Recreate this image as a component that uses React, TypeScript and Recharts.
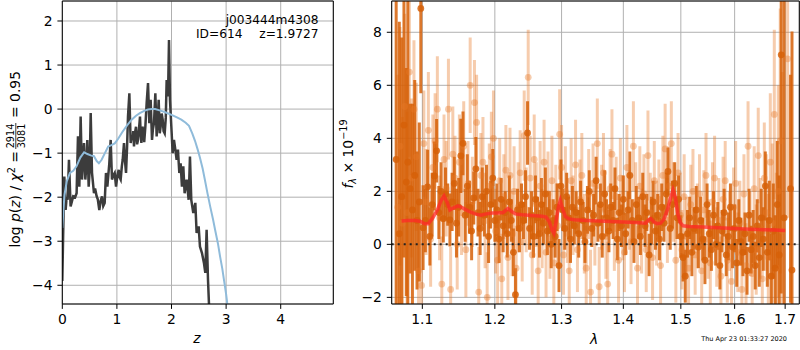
import {
  ComposedChart,
  Line,
  Scatter,
  ErrorBar,
  XAxis,
  YAxis,
  CartesianGrid,
  ReferenceLine,
} from "recharts";

const FONT = '"DejaVu Sans", sans-serif';

// ---- left panel: log p(z) ----
const Z_TICKS = [0, 1, 2, 3, 4];
const PZ_TICKS = [-4, -3, -2, -1, 0, 1, 2];
const Z_DOMAIN = [0, 4.963];
const PZ_DOMAIN = [-4.425, 2.454];

// chi2 curve (dark, jagged)
const PZ_CHI2: [number, number][] = [
  [0.0, -3.9], [0.015, -2.9], [0.037, -1.53], [0.061, -2.29], [0.08, -2.0],
  [0.098, -2.06], [0.122, -1.15], [0.152, -2.21], [0.175, -2.1], [0.2, -1.98],
  [0.235, -2.0], [0.262, -1.91], [0.287, -0.62], [0.312, -1.76], [0.336, -0.17],
  [0.361, -1.6], [0.38, -1.2], [0.397, -0.77], [0.422, -1.6], [0.44, -1.3],
  [0.458, -0.7], [0.483, -1.76], [0.5, -1.4], [0.52, -0.09], [0.544, -1.45],
  [0.58, -1.91], [0.6, -1.8], [0.629, -1.98], [0.65, -2.05], [0.678, -2.29],
  [0.7, -2.1], [0.727, -1.98], [0.75, -2.2], [0.776, -2.13], [0.8, -1.45],
  [0.825, -1.76], [0.861, -1.23], [0.886, -0.7], [0.91, -1.6], [0.935, -1.5],
  [0.959, -1.45], [0.984, -1.76], [1.01, -1.5], [1.033, -1.38], [1.05, -1.55],
  [1.069, -1.6], [1.09, -1.3], [1.106, -1.15], [1.13, -0.77], [1.15, -1.2],
  [1.167, -1.45], [1.185, -0.9], [1.203, -0.17], [1.228, 0.36], [1.252, -0.77],
  [1.27, -0.6], [1.289, -0.7], [1.3, -0.5], [1.313, -0.85], [1.33, -0.55],
  [1.35, -0.4], [1.37, -0.8], [1.386, -0.7], [1.405, -0.45], [1.423, -0.17],
  [1.435, -0.55], [1.448, -0.77], [1.465, -0.4], [1.484, -0.47], [1.5, -0.75],
  [1.521, -0.4], [1.545, 0.14], [1.57, 0.59], [1.594, -0.32], [1.618, 0.21],
  [1.643, -0.7], [1.66, -0.45], [1.679, -0.32], [1.704, 0.36], [1.728, -0.62],
  [1.745, -0.3], [1.765, 0.21], [1.785, -0.55], [1.801, -0.4], [1.82, -0.1],
  [1.838, -0.24], [1.855, -0.5], [1.875, -0.55], [1.895, -0.2], [1.911, 0.66],
  [1.936, 0.29], [1.954, 1.57], [1.972, 0.21], [1.997, -0.4], [2.021, -1.0],
  [2.045, -0.7], [2.07, -0.92], [2.094, -1.15], [2.118, -0.92], [2.143, -1.45],
  [2.167, -1.23], [2.191, -1.76], [2.216, -1.3], [2.24, -1.91], [2.277, -1.6],
  [2.314, -2.06], [2.338, -1.08], [2.362, -2.06], [2.399, -2.36], [2.436, -2.13],
  [2.46, -2.81], [2.497, -2.66], [2.521, -3.12], [2.558, -3.27], [2.595, -3.5],
  [2.619, -3.72], [2.643, -2.74], [2.668, -3.87], [2.692, -4.6], [2.717, -5.5],
];

// p(z) curve (light blue, smooth)
const PZ_SMOOTH: [number, number][] = [
  [0, -2.7], [0.02, -2.3], [0.04, -1.95], [0.08, -1.65], [0.14, -1.45],
  [0.2, -1.4], [0.26, -1.3], [0.33, -1.1], [0.4, -0.98], [0.46, -1.02],
  [0.52, -1.05], [0.58, -1.07], [0.63, -1.18], [0.67, -1.23], [0.72, -1.15],
  [0.78, -1.0], [0.84, -0.85], [0.9, -0.82], [0.96, -0.78], [1.02, -0.68],
  [1.1, -0.52], [1.18, -0.38], [1.27, -0.24], [1.35, -0.15], [1.42, -0.09],
  [1.5, -0.04], [1.57, -0.01], [1.64, 0.0], [1.7, 0.0], [1.78, -0.03],
  [1.86, -0.06], [1.94, -0.1], [2.0, -0.13], [2.1, -0.19], [2.18, -0.24],
  [2.26, -0.31], [2.32, -0.38], [2.38, -0.55], [2.43, -0.72], [2.48, -0.92],
  [2.52, -1.1], [2.57, -1.35], [2.61, -1.6], [2.66, -1.92], [2.71, -2.22],
  [2.76, -2.5], [2.8, -2.75], [2.85, -3.05], [2.89, -3.35], [2.93, -3.62],
  [2.96, -3.87], [3.0, -4.2], [3.02, -4.4], [3.05, -4.65],
];

// ---- right panel: spectrum ----
const WAVE_TICKS = [1.1, 1.2, 1.3, 1.4, 1.5, 1.6, 1.7];
const FLUX_TICKS = [-2, 0, 2, 4, 6, 8];
const WAVE_DOMAIN = [1.0603, 1.7291];
const FLUX_DOMAIN = [-2.25, 9.18];

// [wavelength, flux, error] — pale spectrum
const SPEC_LIGHT: [number, number, number][] = [
  [1.068, 1.4, 5.0], [1.071, 3.7, 4.5], [1.074, 0.8, 4.0], [1.077, 5.2, 3.5],
  [1.08, 1.2, 3.8], [1.083, 6.5, 3.2], [1.086, 2.5, 3.0], [1.089, 5.1, 2.6],
  [1.092, 3.3, 2.8], [1.095, -1.0, 2.5], [1.099, -1.55, 2.2], [1.102, 3.8, 2.0],
  [1.105, 1.6, 2.0], [1.108, 4.3, 2.2], [1.111, 0.2, 1.8], [1.114, 2.9, 2.0],
  [1.117, 3.9, 1.8], [1.12, 5.1, 2.0], [1.123, 1.0, 1.6], [1.126, -1.5, 1.8],
  [1.129, 3.2, 1.7], [1.132, 2.1, 1.8], [1.135, 5.1, 1.9], [1.138, -1.7, 1.6],
  [1.141, 3.4, 1.8], [1.144, 2.5, 1.6], [1.147, 0.0, 1.7], [1.15, 3.1, 1.8],
  [1.153, 1.2, 1.6], [1.156, 3.7, 1.7], [1.159, -0.2, 1.8], [1.162, 2.3, 1.6],
  [1.165, 6.0, 1.8], [1.168, 1.6, 1.7], [1.171, 5.35, 1.6], [1.174, 4.6, 1.8],
  [1.177, -1.8, 1.7], [1.18, 2.6, 1.6], [1.183, 3.1, 1.7], [1.186, 0.9, 1.8],
  [1.189, -2.0, 1.7], [1.192, 2.2, 1.6], [1.195, 3.3, 1.7], [1.198, 4.0, 1.8],
  [1.201, 0.5, 1.6], [1.204, -0.6, 1.7], [1.207, 2.4, 1.6], [1.21, -1.3, 1.7],
  [1.213, 1.8, 1.6], [1.216, 2.8, 1.7], [1.219, -0.5, 1.6], [1.222, 2.6, 1.8],
  [1.225, 0.4, 1.6], [1.228, 2.0, 1.7], [1.231, -0.9, 1.6], [1.234, 1.4, 1.7],
  [1.237, 2.7, 1.6], [1.24, 0.1, 1.5], [1.243, 4.1, 1.7], [1.246, 1.3, 1.6],
  [1.249, 6.3, 1.8], [1.252, 2.5, 1.6], [1.255, -0.4, 1.5], [1.258, 3.2, 1.7],
  [1.261, 1.5, 1.6], [1.264, -1.0, 1.6], [1.267, 2.2, 1.7], [1.27, 0.6, 1.5],
  [1.273, 3.1, 1.6], [1.276, -0.3, 1.7], [1.279, 1.9, 1.6], [1.282, 0.2, 1.5],
  [1.285, 2.4, 1.7], [1.288, -0.7, 1.6], [1.291, 1.5, 1.5], [1.294, 0.7, 1.6],
  [1.297, 4.15, 1.7], [1.3, 2.9, 1.6], [1.303, -0.4, 1.5], [1.306, 2.0, 1.7],
  [1.309, 0.9, 1.6], [1.312, -1.0, 1.5], [1.315, 2.4, 1.6], [1.318, 1.1, 1.5],
  [1.322, 3.0, 1.7], [1.325, -0.2, 1.6], [1.329, 1.7, 1.5], [1.332, 2.6, 1.6],
  [1.336, 0.4, 1.5], [1.339, -0.9, 1.6], [1.343, 1.9, 1.7], [1.346, -1.8, 1.6],
  [1.35, 2.3, 1.5], [1.353, 0.8, 1.6], [1.357, 3.8, 1.7], [1.36, -1.6, 1.5],
  [1.364, 1.4, 1.6], [1.367, 2.7, 1.5], [1.371, 0.3, 1.6], [1.374, -1.5, 1.6],
  [1.378, 2.1, 1.5], [1.381, 3.4, 1.7], [1.385, 0.6, 1.6], [1.388, 1.8, 1.5],
  [1.392, -0.6, 1.6], [1.395, 2.5, 1.5], [1.399, 1.0, 1.6], [1.402, -0.3, 1.5],
  [1.406, 2.9, 1.6], [1.41, 1.3, 1.5], [1.413, 0.1, 1.6], [1.417, 3.7, 1.7],
  [1.421, 1.6, 1.5], [1.424, -0.9, 1.6], [1.428, 2.2, 1.5], [1.431, 0.5, 1.6],
  [1.435, 1.9, 1.5], [1.439, -0.2, 1.6], [1.442, 3.35, 1.7], [1.446, 1.2, 1.5],
  [1.45, -0.5, 1.6], [1.453, 2.4, 1.5], [1.457, 0.8, 1.6], [1.461, 1.7, 1.5],
  [1.464, -0.8, 1.6], [1.468, 2.6, 1.5], [1.472, 3.6, 1.7], [1.476, 0.9, 1.6],
  [1.479, 2.2, 1.5], [1.483, 3.8, 1.6], [1.487, 1.6, 1.5], [1.491, -0.6, 1.6],
  [1.495, 2.7, 1.5], [1.499, 1.1, 1.6], [1.502, -0.2, 1.5], [1.506, 1.8, 1.6],
  [1.51, 0.3, 1.5], [1.514, -0.9, 1.6], [1.518, 1.5, 1.5], [1.522, 2.0, 1.6],
  [1.526, -0.4, 1.5], [1.53, 0.7, 1.6], [1.534, 1.9, 1.5], [1.538, -1.0, 1.6],
  [1.542, 1.3, 1.5], [1.546, 2.6, 1.6], [1.55, 0.2, 1.5], [1.554, -0.7, 1.6],
  [1.558, 1.6, 1.5], [1.562, 2.5, 1.6], [1.566, -0.1, 1.5], [1.57, 0.9, 1.6],
  [1.574, -1.2, 1.5], [1.578, 1.7, 1.6], [1.582, 2.4, 1.5], [1.586, -0.6, 1.6],
  [1.59, 0.5, 1.5], [1.594, -1.4, 1.6], [1.598, 1.4, 1.5], [1.602, 2.3, 1.6],
  [1.606, -0.3, 1.5], [1.61, 0.8, 1.6], [1.614, -1.7, 1.6], [1.618, 1.9, 1.5],
  [1.622, -0.8, 1.6], [1.626, 3.7, 1.7], [1.63, 0.4, 1.6], [1.634, -1.1, 1.7],
  [1.638, 2.1, 1.6], [1.642, -0.2, 1.7], [1.646, 3.35, 1.8], [1.65, 0.6, 1.9],
  [1.654, -1.3, 2.0], [1.658, 2.5, 2.1], [1.662, 1.2, 2.2], [1.666, -0.5, 2.4],
  [1.67, 3.1, 2.6], [1.674, 0.8, 3.0], [1.678, 4.9, 3.2], [1.682, -0.9, 3.6],
  [1.686, 2.0, 4.0], [1.69, 3.9, 5.0], [1.694, 0.5, 6.0], [1.705, 7.0, 6.0],
];

// [wavelength, flux, error] — dark spectrum
const SPEC_DARK: [number, number, number][] = [
  [1.066, 3.2, 7.0], [1.07, 0.4, 8.0], [1.073, 1.8, 6.0], [1.076, 4.5, 5.0],
  [1.079, 2.35, 4.3], [1.081, 3.1, 6.5], [1.084, 2.1, 3.2], [1.087, 1.3, 4.0],
  [1.09, 2.6, 3.6], [1.093, 0.9, 2.6], [1.096, 1.6, 3.0], [1.098, 8.9, 3.2],
  [1.101, 0.63, 1.6], [1.104, 0.9, 1.2], [1.107, 2.17, 1.4], [1.11, 0.3, 1.1],
  [1.113, 1.5, 1.2], [1.116, 2.58, 1.3], [1.119, 3.53, 1.2], [1.122, 1.2, 1.0],
  [1.125, 2.0, 1.1], [1.128, 0.97, 0.9], [1.131, 1.9, 1.0], [1.134, 1.5, 0.8],
  [1.137, 0.92, 1.0], [1.14, 1.6, 1.1], [1.143, 2.3, 1.0], [1.146, 0.8, 1.3],
  [1.149, 1.4, 1.1], [1.152, 3.34, 1.4], [1.155, 3.81, 1.2], [1.158, 1.1, 1.0],
  [1.161, 2.2, 1.2], [1.164, 1.4, 1.0], [1.167, 0.5, 1.1], [1.17, 1.75, 1.0],
  [1.173, 2.85, 1.2], [1.176, 1.2, 0.9], [1.179, 0.6, 1.0], [1.182, 1.8, 1.1],
  [1.185, 1.1, 0.8], [1.188, 2.0, 1.0], [1.191, 0.3, 1.0], [1.194, 1.5, 0.9],
  [1.197, 2.5, 1.1], [1.2, 0.9, 0.8], [1.203, 1.3, 1.0], [1.206, 0.2, 0.9],
  [1.209, 1.7, 0.8], [1.212, 0.7, 1.0], [1.215, 1.2, 0.8], [1.218, 0.4, 0.9],
  [1.221, 1.6, 1.0], [1.224, 0.9, 0.8], [1.227, -0.3, 0.9], [1.23, -1.9, 1.0],
  [1.233, 1.3, 0.8], [1.236, 0.6, 0.9], [1.239, 1.5, 0.8], [1.242, 0.9, 0.7],
  [1.245, 1.8, 1.0], [1.248, 4.2, 1.2], [1.251, 0.6, 0.8], [1.254, 1.1, 0.9],
  [1.257, 0.3, 0.8], [1.26, 1.7, 0.9], [1.263, 1.0, 0.8], [1.266, 0.4, 0.9],
  [1.269, 1.5, 1.0], [1.272, 0.8, 0.8], [1.275, 1.9, 1.0], [1.278, 0.5, 0.9],
  [1.281, 1.2, 0.8], [1.284, 0.0, 0.9], [1.287, 0.9, 0.8], [1.29, 0.3, 0.8],
  [1.293, 1.4, 0.9], [1.296, -0.8, 1.0], [1.299, 2.2, 1.0], [1.302, 1.3, 0.8],
  [1.305, 0.6, 0.8], [1.308, 1.8, 0.9], [1.311, 1.0, 0.8], [1.314, 0.2, 0.9],
  [1.317, 1.4, 0.8], [1.32, 0.7, 0.7], [1.323, 1.2, 0.8], [1.327, 0.4, 0.9],
  [1.33, 1.6, 0.8], [1.334, 0.9, 0.7], [1.337, 0.1, 0.8], [1.341, 1.3, 0.9],
  [1.344, 2.0, 0.8], [1.348, 0.6, 0.7], [1.351, 1.1, 0.8], [1.355, 2.4, 0.9],
  [1.358, 0.8, 0.7], [1.362, 1.5, 0.8], [1.365, 0.3, 0.8], [1.369, 1.9, 0.9],
  [1.372, 1.0, 0.7], [1.376, 0.5, 0.8], [1.379, 1.4, 0.9], [1.383, 0.9, 0.7],
  [1.386, 2.1, 0.8], [1.39, 0.2, 0.8], [1.393, 1.2, 0.7], [1.397, 0.7, 0.8],
  [1.4, 1.7, 0.9], [1.404, 0.4, 0.8], [1.408, 1.3, 0.7], [1.411, 2.6, 0.9],
  [1.415, 0.9, 0.8], [1.418, 0.1, 0.8], [1.422, 1.5, 0.7], [1.426, 1.0, 0.8],
  [1.429, 0.3, 0.7], [1.433, 1.8, 0.9], [1.437, 0.7, 0.8], [1.44, 1.2, 0.7],
  [1.444, -0.4, 0.8], [1.448, 0.9, 0.9], [1.451, 1.6, 0.8], [1.455, 0.5, 0.7],
  [1.459, 1.1, 0.8], [1.462, 0.2, 0.8], [1.466, 1.4, 0.9], [1.47, 0.8, 0.7],
  [1.474, 1.9, 0.8], [1.477, 2.75, 0.9], [1.481, 0.6, 0.8], [1.485, 1.5, 0.9],
  [1.489, 2.3, 0.8], [1.493, 1.0, 0.8], [1.496, 1.7, 0.9], [1.5, 0.3, 0.8],
  [1.504, -0.5, 0.9], [1.508, -1.2, 1.0], [1.512, 0.4, 0.9], [1.516, 1.0, 0.8],
  [1.52, -0.3, 0.9], [1.524, 0.6, 0.8], [1.528, 1.3, 0.9], [1.532, -0.1, 0.8],
  [1.536, 0.9, 0.9], [1.54, 0.2, 0.8], [1.544, -0.6, 0.9], [1.548, 1.5, 0.8],
  [1.552, 0.4, 0.9], [1.556, -0.2, 0.8], [1.56, 1.1, 0.9], [1.564, 0.0, 0.8],
  [1.568, 0.7, 0.9], [1.572, -0.8, 0.9], [1.576, 0.5, 0.8], [1.58, 1.2, 0.9],
  [1.584, -0.4, 0.8], [1.588, 0.3, 0.9], [1.592, 1.4, 0.9], [1.596, -0.1, 0.8],
  [1.6, 0.6, 0.9], [1.604, -0.7, 0.9], [1.608, 0.9, 0.8], [1.612, 0.1, 0.9],
  [1.616, -0.3, 0.9], [1.62, 0.4, 0.8], [1.624, -1.0, 0.9], [1.628, 1.1, 1.0],
  [1.632, -0.2, 0.9], [1.636, 0.3, 1.0], [1.64, -0.8, 0.9], [1.644, 0.7, 1.0],
  [1.648, -0.5, 1.1], [1.652, 1.0, 1.1], [1.656, 0.2, 1.2], [1.66, 2.2, 1.3],
  [1.664, -0.3, 1.3], [1.668, 0.9, 1.5], [1.672, -1.2, 1.6], [1.676, 0.5, 1.8],
  [1.68, -0.9, 2.0], [1.684, 1.5, 2.4], [1.688, -0.4, 3.0], [1.692, 7.15, 9.0],
  [1.698, 1.0, 9.0], [1.711, 2.1, 4.3], [1.714, -0.97, 9.0],
];

// best-fit model (red)
const MODEL: [number, number][] = [
  [1.073, 0.88], [1.08, 0.9], [1.09, 0.9], [1.097, 0.87], [1.103, 0.78],
  [1.108, 0.78], [1.114, 1.0], [1.12, 1.3], [1.125, 1.65], [1.129, 1.82],
  [1.133, 1.6], [1.137, 1.3], [1.142, 1.38], [1.148, 1.45], [1.153, 1.4],
  [1.158, 1.32], [1.165, 1.22], [1.172, 1.15], [1.18, 1.1], [1.188, 1.15],
  [1.196, 1.18], [1.205, 1.18], [1.212, 1.2], [1.219, 1.35], [1.224, 1.25],
  [1.23, 1.15], [1.24, 1.12], [1.25, 1.1], [1.26, 1.08], [1.27, 1.06],
  [1.276, 1.03], [1.281, 0.85], [1.285, 0.55], [1.288, 0.42], [1.291, 0.8],
  [1.295, 1.4], [1.298, 1.65], [1.302, 1.3], [1.306, 1.05], [1.312, 0.96],
  [1.32, 0.93], [1.34, 0.9], [1.36, 0.88], [1.38, 0.86], [1.4, 0.84],
  [1.42, 0.82], [1.438, 0.8], [1.443, 0.92], [1.447, 0.97], [1.452, 0.85],
  [1.458, 0.78], [1.464, 0.8], [1.47, 0.95], [1.476, 1.3], [1.481, 1.7],
  [1.486, 2.05], [1.49, 1.8], [1.494, 1.2], [1.499, 0.82], [1.504, 0.7],
  [1.515, 0.67], [1.54, 0.65], [1.57, 0.63], [1.6, 0.6], [1.63, 0.57],
  [1.66, 0.55], [1.68, 0.54], [1.7, 0.52],
];

const chi2Data = PZ_CHI2.map(([z, v]) => ({ z, v }));
const smoothData = PZ_SMOOTH.map(([z, v]) => ({ z, v }));
const lightData = SPEC_LIGHT.map(([x, y, e]) => ({ x, y, e }));
const darkData = SPEC_DARK.map(([x, y, e]) => ({ x, y, e }));
const modelData = MODEL.map(([x, y]) => ({ x, y }));

const minus = (v: number) => (v < 0 ? "\u2212" + Math.abs(v) : String(v));
const tickStyle = { fill: "#000", fontSize: 13.9, fontFamily: FONT };

const LIGHT = "rgba(232,122,40,0.38)";
const DARK = "rgba(214,96,8,0.85)";

// right panel geometry
const R_W = 460;
const R_H = 350;
const R_AXIS_W = 51.7;
const R_AXIS_H = 46;
const R_MARGIN = { top: 1, right: 0.7, bottom: 0, left: 0 };
const R_MARGIN_HIDDEN = { top: 1, right: 0.7, bottom: R_AXIS_H, left: R_AXIS_W };

function HiddenSpecAxes() {
  return [
    <XAxis
      key="x"
      dataKey="x"
      type="number"
      scale="log"
      domain={WAVE_DOMAIN}
      ticks={WAVE_TICKS}
      allowDataOverflow
      hide
    />,
    <YAxis
      key="y"
      dataKey="y"
      type="number"
      domain={FLUX_DOMAIN}
      ticks={FLUX_TICKS}
      allowDataOverflow
      hide
    />,
  ];
}

export default function App() {
  return (
    <div
      style={{
        position: "absolute",
        left: 0,
        top: 0,
        width: 800,
        height: 350,
        background: "#fff",
        fontFamily: FONT,
      }}
    >
      <div style={{ position: "absolute", left: 0, top: 0 }}>
        <ComposedChart
          width={340}
          height={350}
          margin={{ top: 1, right: 6.7, bottom: 0, left: 0 }}
        >
          <CartesianGrid stroke="#b0b0b0" strokeWidth={1} />
          <XAxis
            dataKey="z"
            type="number"
            domain={Z_DOMAIN}
            ticks={Z_TICKS}
            allowDataOverflow
            height={46}
            tickSize={4.9}
            tickMargin={4.9}
            stroke="#000"
            tick={tickStyle}
          />
          <YAxis
            type="number"
            domain={PZ_DOMAIN}
            ticks={PZ_TICKS}
            allowDataOverflow
            width={62.3}
            tickSize={4.9}
            tickMargin={4.9}
            stroke="#000"
            tick={tickStyle}
            tickFormatter={minus}
          />
          <Line
            data={chi2Data}
            dataKey="v"
            stroke="#3c3c3c"
            strokeWidth={2.5}
            dot={false}
            isAnimationActive={false}
          />
          <Line
            data={smoothData}
            dataKey="v"
            stroke="#8fbbda"
            strokeWidth={2}
            dot={false}
            isAnimationActive={false}
          />
          <ReferenceLine x={Z_DOMAIN[1]} stroke="#000" />
          <ReferenceLine y={PZ_DOMAIN[1]} stroke="#000" />
        </ComposedChart>
      </div>

      {/* right panel, layer 1: grid */}
      <div style={{ position: "absolute", left: 340, top: 0 }}>
        <ComposedChart width={R_W} height={R_H} margin={R_MARGIN_HIDDEN} data={modelData}>
          <CartesianGrid stroke="#b0b0b0" strokeWidth={1} />
          {HiddenSpecAxes()}
        </ComposedChart>
      </div>

      {/* right panel, layer 2: error bars, clipped to the plot box */}
      <div
        style={{
          position: "absolute",
          left: 340,
          top: 0,
          clipPath: `inset(${R_MARGIN_HIDDEN.top}px ${R_MARGIN_HIDDEN.right}px ${R_AXIS_H}px ${R_AXIS_W}px)`,
        }}
      >
        <ComposedChart width={R_W} height={R_H} margin={R_MARGIN_HIDDEN}>
          {HiddenSpecAxes()}
          <Scatter
            data={lightData}
            dataKey="y"
            isAnimationActive={false}
            shape={(p: any) => <circle cx={p.cx} cy={p.cy} r={3.4} fill={LIGHT} />}
          >
            <ErrorBar
              dataKey="e"
              direction="y"
              width={0}
              stroke={LIGHT}
              strokeWidth={3}
              isAnimationActive={false}
            />
          </Scatter>
          <Scatter
            data={darkData}
            dataKey="y"
            isAnimationActive={false}
            shape={(p: any) => <circle cx={p.cx} cy={p.cy} r={3.4} fill={DARK} />}
          >
            <ErrorBar
              dataKey="e"
              direction="y"
              width={0}
              stroke={DARK}
              strokeWidth={3}
              isAnimationActive={false}
            />
          </Scatter>
        </ComposedChart>
      </div>

      {/* right panel, layer 3: axes, zero line, model */}
      <div style={{ position: "absolute", left: 340, top: 0 }}>
        <ComposedChart width={R_W} height={R_H} margin={R_MARGIN}>
          <XAxis
            dataKey="x"
            type="number"
            scale="log"
            domain={WAVE_DOMAIN}
            ticks={WAVE_TICKS}
            allowDataOverflow
            height={R_AXIS_H}
            tickSize={4.9}
            tickMargin={4.9}
            stroke="#000"
            tick={tickStyle}
            tickFormatter={(v: number) => v.toFixed(1)}
          />
          <YAxis
            dataKey="y"
            type="number"
            domain={FLUX_DOMAIN}
            ticks={FLUX_TICKS}
            allowDataOverflow
            width={R_AXIS_W}
            tickSize={4.9}
            tickMargin={4.9}
            stroke="#000"
            tick={tickStyle}
            tickFormatter={minus}
          />
          <ReferenceLine y={0} stroke="#222" strokeWidth={2} strokeDasharray="2 4" />
          <Line
            data={modelData}
            dataKey="y"
            stroke="rgba(255,40,40,0.75)"
            strokeWidth={3.5}
            dot={false}
            isAnimationActive={false}
          />
          <ReferenceLine x={WAVE_DOMAIN[1]} stroke="#000" />
          <ReferenceLine y={FLUX_DOMAIN[1]} stroke="#000" />
        </ComposedChart>
      </div>

      <svg
        width={800}
        height={350}
        style={{ position: "absolute", left: 0, top: 0, pointerEvents: "none" }}
        fontFamily={FONT}
      >
        {/* left y label */}
        <g transform="translate(20,0) rotate(-90)" fontSize={13.9} fill="#000">
          <text x={-151} y={0} textAnchor="end">
            log <tspan fontStyle="italic">p</tspan>(<tspan fontStyle="italic">z</tspan>) / <tspan fontStyle="italic">χ</tspan>
            <tspan fontSize={9.7} dy={-5}>2</tspan>
            <tspan dy={5}> =</tspan>
          </text>
          <text x={-136} y={-6} textAnchor="middle" fontSize={9.7}>2914</text>
          <line x1={-149} x2={-123} y1={-4.2} y2={-4.2} stroke="#000" strokeWidth={0.8} />
          <text x={-136} y={4.5} textAnchor="middle" fontSize={9.7}>3081</text>
          <text x={-118} y={0} textAnchor="start">= 0.95</text>
        </g>
        <text x={197} y={343} fontSize={13.9} fontStyle="italic" textAnchor="middle">z</text>
        <text x={318.5} y={24} fontSize={12.2} textAnchor="end">j003444m4308</text>
        <text x={196} y={38} fontSize={12.2}>ID=614</text>
        <text x={318.5} y={38} fontSize={12.2} textAnchor="end">z=1.9727</text>

        {/* right y label */}
        <g transform="translate(353,154) rotate(-90)" fontSize={13.9} fill="#000">
          <text x={0} y={0} textAnchor="middle">
            <tspan fontStyle="italic">f</tspan>
            <tspan fontSize={9.7} fontStyle="italic" dy={3}>λ</tspan>
            <tspan dy={-3}> × 10</tspan>
            <tspan fontSize={9.7} dy={-6}>−19</tspan>
          </text>
        </g>
        <text x={594} y={344} fontSize={13.9} fontStyle="italic" textAnchor="middle">λ</text>
        <text x={787} y={341} fontSize={6.5} textAnchor="end">Thu Apr 23 01:33:27 2020</text>
      </svg>
    </div>
  );
}
